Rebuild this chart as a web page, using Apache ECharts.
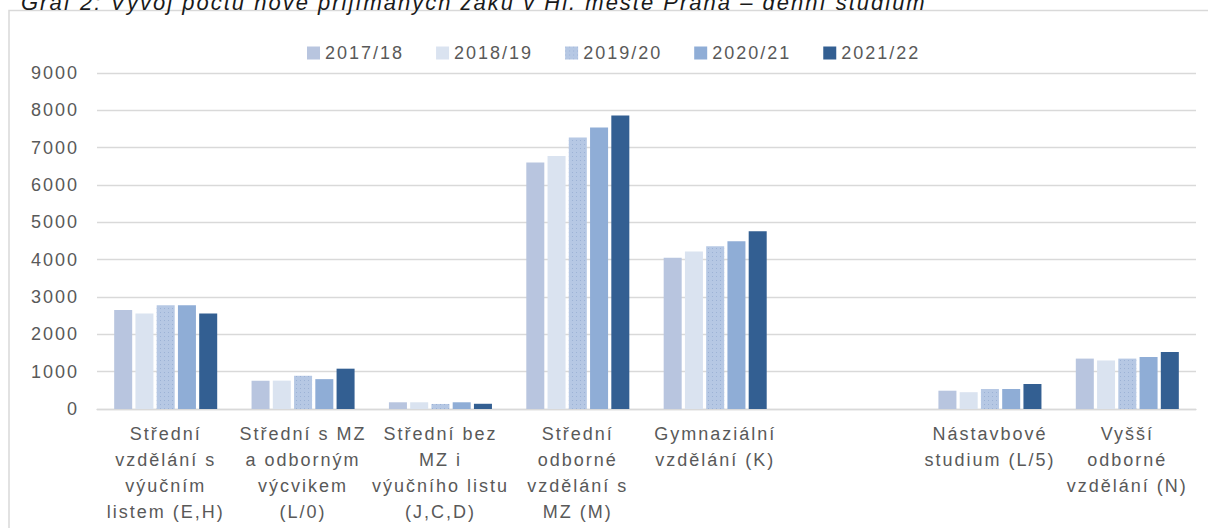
<!DOCTYPE html>
<html>
<head>
<meta charset="utf-8">
<script src="https://cdn.jsdelivr.net/npm/echarts@6/dist/echarts.min.js"></script>
<style>
  html, body { margin: 0; padding: 0; background: #fff; }
  #main { width: 1208px; height: 528px; }
  /* the source picture is letter-spaced everywhere */
  #main text { letter-spacing: 2px; }
</style>
</head>
<body>
<div id="main"></div>
<script>
  var titleText = 'Graf 2: Vývoj počtu nově přijímaných žáků v Hl. městě Praha – denní studium'
  var years = ['2017/18', '2018/19', '2019/20', '2020/21', '2021/22']
  var categories = [
    'Střední\nvzdělání s\nvýučním\nlistem (E,H)',
    'Střední s MZ\na odborným\nvýcvikem\n(L/0)',
    'Střední bez\nMZ i\nvýučního listu\n(J,C,D)',
    'Střední\nodborné\nvzdělání s\nMZ (M)',
    'Gymnaziální\nvzdělání (K)',
    '',
    'Nástavbové\nstudium (L/5)',
    'Vyšší\nodborné\nvzdělání (N)'
  ]
  var y2017 = [2650, 760, 180, 6600, 4050, null, 490, 1350]
  var y2018 = [2560, 760, 180, 6780, 4220, null, 450, 1300]
  var y2019 = [2780, 890, 135, 7270, 4360, null, 535, 1350]
  var y2020 = [2780, 800, 180, 7540, 4490, null, 535, 1395]
  var y2021 = [2560, 1080, 140, 7860, 4760, null, 670, 1530]
  var yTicks = [0, 9000, 1000]

  var colors = ['#B8C5DF', '#DAE3F0', '#B6C8E4', '#8FADD6', '#335F92']
  var seriesData = [y2017, y2018, y2019, y2020, y2021]

  var chart = echarts.init(document.getElementById('main'), null, {renderer: 'svg'})

  var series = []
  for (var i = 0; i < years.length; i++) {
    var s = {
      name: years[i],
      type: 'bar',
      data: seriesData[i],
      barGap: '18%',
      barCategoryGap: '25%',
      itemStyle: {color: colors[i]}
    }
    if (i === 2) {
      s.itemStyle.decal = {
        symbol: 'rect',
        symbolSize: 1,
        color: 'rgba(125,150,195,0.45)',
        dashArrayX: [1, 3],
        dashArrayY: [1, 3]
      }
    }
    series.push(s)
  }

  chart.setOption({
    animation: false,
    textStyle: {fontFamily: 'Liberation Sans'},
    title: {
      text: titleText,
      left: 16,
      top: -14,
      textStyle: {
        fontSize: 22,
        fontStyle: 'italic',
        fontWeight: 'normal',
        color: '#1a1a1a',
        fontFamily: 'Liberation Sans'
      }
    },
    graphic: [{
      type: 'rect',
      shape: {x: 9, y: 10.5, width: 1400, height: 700},
      style: {fill: 'none', stroke: '#d9d9d9', lineWidth: 1.5},
      silent: true,
      z: -10
    }],
    legend: {
      data: years,
      top: 39,
      left: 302,
      itemWidth: 13,
      itemHeight: 13,
      itemGap: 46,
      icon: 'rect',
      textStyle: {fontSize: 18, color: '#595959'}
    },
    grid: {left: 97, right: 12, top: 73, bottom: 119, containLabel: false},
    xAxis: {
      type: 'category',
      data: categories,
      axisTick: {show: false},
      axisLine: {lineStyle: {color: '#d9d9d9', width: 1.3}},
      axisLabel: {
        interval: 0,
        margin: 12,
        fontSize: 18,
        lineHeight: 26,
        color: '#595959'
      }
    },
    yAxis: {
      type: 'value',
      min: yTicks[0],
      max: yTicks[1],
      interval: yTicks[2],
      axisLine: {show: false},
      axisTick: {show: false},
      splitLine: {lineStyle: {color: '#d9d9d9', width: 1.3}},
      axisLabel: {
        fontSize: 18,
        color: '#595959',
        margin: 18,
        formatter: function (v) { return String(v) }
      }
    },
    series: series
  })
</script>
</body>
</html>
